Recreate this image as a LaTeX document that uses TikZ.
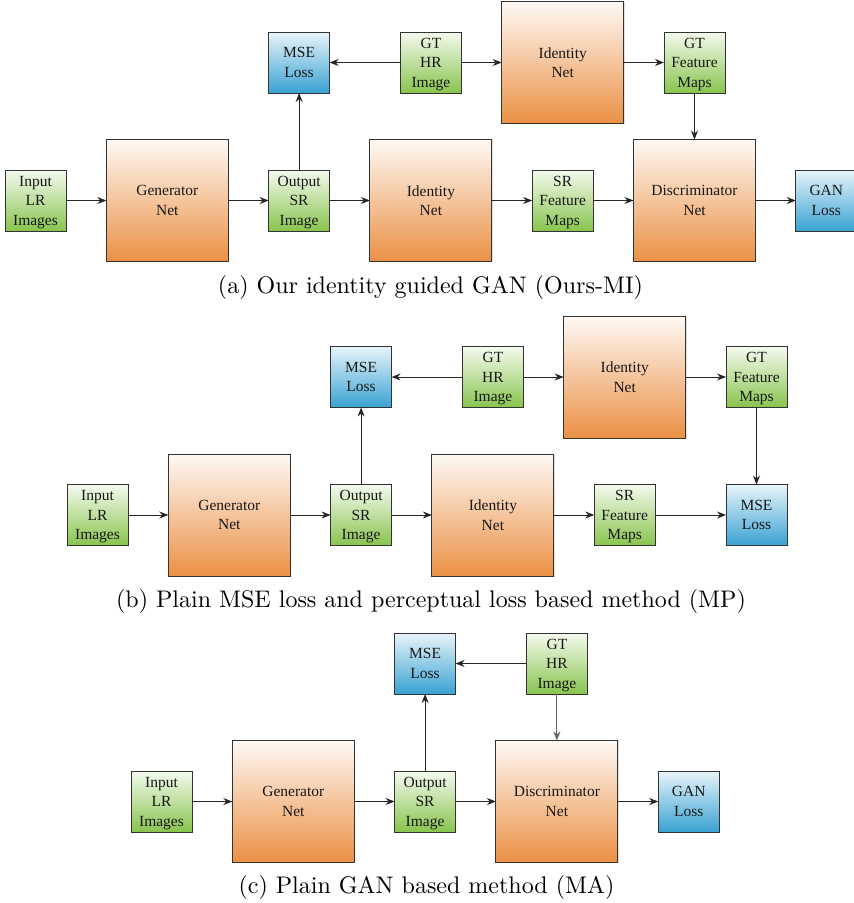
\documentclass[tikz,border=0pt]{standalone}
\usepackage{fontspec}
\newfontfamily\boxfont{Liberation Serif}
\usetikzlibrary{positioning,arrows.meta,shadows}

\definecolor{greentop}{HTML}{F4FAEE}
\definecolor{greenbot}{HTML}{88C44E}
\definecolor{orangetop}{HTML}{FEF9F5}
\definecolor{orangebot}{HTML}{EB9044}
\definecolor{bluetop}{HTML}{E8F4FA}
\definecolor{bluebot}{HTML}{39A2D2}
\definecolor{boxline}{HTML}{333333}
\definecolor{arrowline}{HTML}{262626}

\tikzset{
  block/.style={draw=boxline, line width=0.9pt, align=center, inner sep=0pt,
                outer sep=0pt, font=\boxfont\fontsize{15.5}{19.5}\selectfont,
                text=black!90, text depth=0pt,
                drop shadow={opacity=0.25, shadow xshift=0.8pt, shadow yshift=-0.8pt}},
  data/.style={block, minimum size=61pt, top color=greentop, bottom color=greenbot},
  net/.style={block, minimum size=122pt, top color=orangetop, bottom color=orangebot},
  loss/.style={block, minimum size=61pt, top color=bluetop, bottom color=bluebot},
  flow/.style={->, line width=0.9pt, color=arrowline},
  caption/.style={scale=2.4}
}

\begin{document}
\begin{tikzpicture}[x=1pt,y=-1pt,node distance=40.3pt,
                    >={Stealth[length=9pt,width=7pt]}]
  \useasboundingbox (0,0) rectangle (854,903);

  % (a) identity guided GAN
  \node[data] (a-in) at (35.5,200.5) {Input\\LR\\Images};
  \node[net]  (a-gen) [right=of a-in] {Generator\\Net};
  \node[data] (a-out) [right=of a-gen] {Output\\SR\\Image};
  \node[net]  (a-idb) [right=of a-out] {Identity\\Net};
  \node[data] (a-srf) [right=of a-idb] {SR\\Feature\\Maps};
  \node[net]  (a-dis) [right=of a-srf] {Discriminator\\Net};
  \node[loss] (a-gan) [right=of a-dis] {GAN\\Loss};
  \node[loss] (a-mse) [above=77pt of a-out] {MSE\\Loss};
  \node[data] (a-gt)  at (a-idb |- a-mse) {GT\\HR\\Image};
  \node[net]  (a-idt) at (a-srf |- a-mse) {Identity\\Net};
  \node[data] (a-gtf) [right=of a-idt] {GT\\Feature\\Maps};
  \node[caption] (a-cap) at (430.5,287) {(a) Our identity guided GAN (Ours-MI)};

  \path[flow] (a-in)  edge (a-gen)
              (a-gen) edge (a-out)
              (a-out) edge (a-idb)
              (a-idb) edge (a-srf)
              (a-srf) edge (a-dis)
              (a-dis) edge (a-gan)
              (a-out) edge (a-mse)
              (a-gt)  edge (a-mse)
              (a-gt)  edge (a-idt)
              (a-idt) edge (a-gtf)
              (a-gtf) edge (a-dis);

  % (b) MSE + perceptual loss
  \node[data] (b-in) at (97.5,515) {Input\\LR\\Images};
  \node[net]  (b-gen) [right=of b-in] {Generator\\Net};
  \node[data] (b-out) [right=of b-gen] {Output\\SR\\Image};
  \node[net]  (b-idb) [right=of b-out] {Identity\\Net};
  \node[data] (b-srf) [right=of b-idb] {SR\\Feature\\Maps};
  \node[loss] (b-mse) [above=77pt of b-out] {MSE\\Loss};
  \node[data] (b-gt)  at (b-idb |- b-mse) {GT\\HR\\Image};
  \node[net]  (b-idt) at (b-srf |- b-mse) {Identity\\Net};
  \node[data] (b-gtf) [right=of b-idt] {GT\\Feature\\Maps};
  \node[loss] (b-msf) at (b-gtf |- b-srf) {MSE\\Loss};
  \node[caption] (b-cap) at (431,601) {(b) Plain MSE loss and perceptual loss based method (MP)};

  \path[flow] (b-in)  edge (b-gen)
              (b-gen) edge (b-out)
              (b-out) edge (b-idb)
              (b-idb) edge (b-srf)
              (b-srf) edge (b-msf)
              (b-out) edge (b-mse)
              (b-gt)  edge (b-mse)
              (b-gt)  edge (b-idt)
              (b-idt) edge (b-gtf)
              (b-gtf) edge (b-msf);

  % (c) plain GAN
  \node[data] (c-in) at (161.5,801.5) {Input\\LR\\Images};
  \node[net]  (c-gen) [right=of c-in] {Generator\\Net};
  \node[data] (c-out) [right=of c-gen] {Output\\SR\\Image};
  \node[net]  (c-dis) [right=of c-out] {Discriminator\\Net};
  \node[loss] (c-gan) [right=of c-dis] {GAN\\Loss};
  \node[loss] (c-mse) [above=77pt of c-out] {MSE\\Loss};
  \node[data] (c-gt)  at (c-dis |- c-mse) {GT\\HR\\Image};
  \node[caption] (c-cap) at (426.5,887) {(c) Plain GAN based method (MA)};

  \path[flow] (c-in)  edge (c-gen)
              (c-gen) edge (c-out)
              (c-out) edge (c-dis)
              (c-dis) edge (c-gan)
              (c-out) edge (c-mse)
              (c-gt)  edge (c-mse)
              (c-gt)  edge[color=black!60] (c-dis);
\end{tikzpicture}
\end{document}
